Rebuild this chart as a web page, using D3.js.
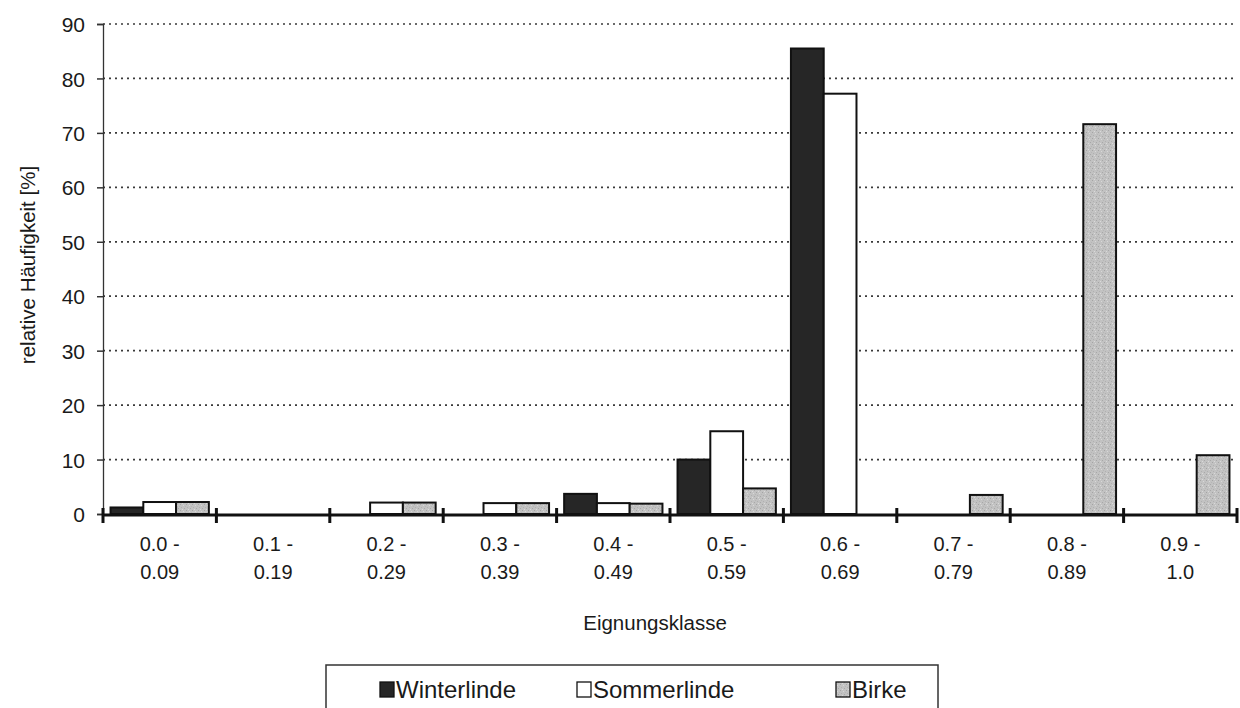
<!DOCTYPE html>
<html>
<head>
<meta charset="utf-8">
<script src="https://cdn.jsdelivr.net/npm/d3@7"></script>
<style>
  html, body { margin: 0; padding: 0; background: #fff; }
  svg { display: block; font-family: Arial, "Liberation Sans", sans-serif; }
</style>
</head>
<body>
<svg id="chart" width="1240" height="708"></svg>
<script>
// Eignungsklassen (suitability classes), two-line labels
const classes = ["0.0 -|0.09", "0.1 -|0.19", "0.2 -|0.29", "0.3 -|0.39", "0.4 -|0.49",
                 "0.5 -|0.59", "0.6 -|0.69", "0.7 -|0.79", "0.8 -|0.89", "0.9 -|1.0"];
const seriesNames = ["Winterlinde", "Sommerlinde", "Birke"];
// relative frequency [%] per class
const winterlinde = [1.2, 0, 0, 0, 3.7, 10.0, 85.5, 0, 0, 0];
const sommerlinde = [2.2, 0, 2.1, 2.0, 2.0, 15.2, 77.2, 0, 0, 0];
const birke       = [2.2, 0, 2.1, 2.0, 1.9, 4.7, 0, 3.5, 71.6, 10.8];
const yTicks = [0, 10, 20, 30, 40, 50, 60, 70, 80, 90];

const svg = d3.select("#chart");
const plotLeft = 103, plotRight = 1237, plotTop = 24, plotBottom = 514;
const ink = "#1a1a1a";

const defs = svg.append("defs");
// stippled grey fill for Birke
const pat = defs.append("pattern").attr("id", "stipple")
  .attr("patternUnits", "userSpaceOnUse").attr("width", 6).attr("height", 6);
pat.append("rect").attr("width", 6).attr("height", 6).attr("fill", "#c2c2c2");
[[0,0,"#a4a4a4"],[3,1,"#d8d8d8"],[1,3,"#b0b0b0"],[4,4,"#a8a8a8"],[2,5,"#dadada"],[5,2,"#b6b6b6"]]
  .forEach(([x, y, c]) => pat.append("rect").attr("x", x).attr("y", y)
    .attr("width", 1).attr("height", 1).attr("fill", c));

const x0 = d3.scaleBand().domain(d3.range(classes.length)).range([plotLeft, plotRight]).paddingInner(0).paddingOuter(0);
const x1 = d3.scaleBand().domain(seriesNames).range([0, x0.bandwidth()]).paddingInner(0).paddingOuter(0.23);
const y = d3.scaleLinear().domain([0, 90]).range([plotBottom, plotTop]);

// dotted gridlines
svg.append("g").selectAll("line").data(yTicks.filter(d => d > 0)).join("line")
  .attr("x1", plotLeft).attr("x2", plotRight)
  .attr("y1", d => y(d)).attr("y2", d => y(d))
  .attr("stroke", "#3a3a3a").attr("stroke-width", 1.7)
  .attr("stroke-dasharray", "2,4");

// y axis
const yAxis = d3.axisLeft(y).tickValues(yTicks).tickSize(6).tickPadding(12);
const gy = svg.append("g").attr("transform", `translate(${plotLeft},0)`).call(yAxis);
gy.select(".domain").attr("stroke", "#333").attr("stroke-width", 1.3);
gy.selectAll(".tick line").attr("stroke", "#333").attr("stroke-width", 1.5);
gy.selectAll(".tick text").attr("font-size", 21).attr("fill", ink).attr("dy", "0.36em");

// bars
const seriesData = [winterlinde, sommerlinde, birke];
const fills = ["#262626", "#ffffff", "url(#stipple)"];
const gBars = svg.append("g");
seriesData.forEach((vals, si) => {
  gBars.selectAll(null).data(vals.map((v, i) => ({ i, v })).filter(d => d.v > 0)).join("rect")
    .attr("x", d => x0(d.i) + x1(seriesNames[si]))
    .attr("y", d => y(d.v))
    .attr("width", x1.bandwidth())
    .attr("height", d => plotBottom - y(d.v))
    .attr("fill", fills[si])
    .attr("stroke", "#111").attr("stroke-width", 2);
});

// x axis: heavy baseline with crossing ticks at class boundaries
const boundaries = d3.range(classes.length + 1).map(i => i < classes.length ? x0(i) : plotRight);
svg.append("line").attr("x1", plotLeft).attr("x2", plotRight).attr("y1", plotBottom + 1).attr("y2", plotBottom + 1)
  .attr("stroke", "#111").attr("stroke-width", 3.2);
svg.append("g").selectAll("line").data(boundaries).join("line")
  .attr("x1", d => d).attr("x2", d => d).attr("y1", plotBottom - 6).attr("y2", plotBottom + 9)
  .attr("stroke", "#111").attr("stroke-width", 3);

// class labels
const gx = svg.append("g");
classes.forEach((c, i) => {
  const [a, b] = c.split("|");
  const cx = x0(i) + x0.bandwidth() / 2;
  const t = gx.append("text").attr("text-anchor", "middle")
    .attr("font-size", 20).attr("fill", ink);
  t.append("tspan").attr("x", cx).attr("y", 551).text(a);
  t.append("tspan").attr("x", cx).attr("y", 579).text(b);
});

// axis titles
svg.append("text").attr("x", 655).attr("y", 630).attr("text-anchor", "middle")
  .attr("font-size", 20.5).attr("fill", ink).text("Eignungsklasse");
svg.append("text").attr("transform", "translate(35,265) rotate(-90)").attr("text-anchor", "middle")
  .attr("font-size", 20.5).attr("fill", ink).text("relative Häufigkeit [%]");

// legend
const lg = svg.append("g");
lg.append("rect").attr("x", 326).attr("y", 665).attr("width", 612).attr("height", 60)
  .attr("fill", "#fff").attr("stroke", "#333").attr("stroke-width", 1.5);
const legendX = [380, 577, 836];
seriesNames.forEach((n, i) => {
  lg.append("rect").attr("x", legendX[i]).attr("y", 682).attr("width", 14).attr("height", 15)
    .attr("fill", fills[i]).attr("stroke", "#111").attr("stroke-width", 1.3);
  lg.append("text").attr("x", legendX[i] + 16).attr("y", 698)
    .attr("font-size", 24).attr("fill", ink).text(n);
});
</script>
</body>
</html>
